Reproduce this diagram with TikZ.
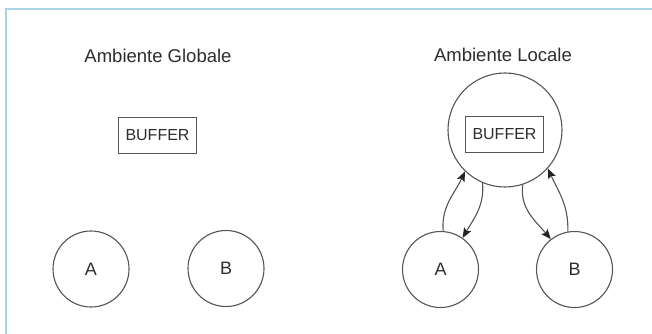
\documentclass[tikz,border=0pt]{standalone}
\usepackage{fontspec}
\setmainfont{Liberation Sans}
\usetikzlibrary{arrows.meta}
\definecolor{linegray}{RGB}{85,85,85}
\definecolor{textgray}{RGB}{45,45,45}
\definecolor{tipdark}{RGB}{35,35,35}
\definecolor{frameblue}{RGB}{170,212,232}
\begin{document}
\begin{tikzpicture}[x=1pt,y=-1pt,
  title/.style={font=\fontsize{18.5}{22}\selectfont, text=textgray, anchor=base, inner sep=0pt},
  bufbox/.style={draw=linegray, line width=1.1pt, minimum width=78pt, minimum height=36pt, inner sep=0pt, font=\fontsize{16}{19}\selectfont, text=textgray},
  proc/.style={draw=linegray, line width=1.1pt, circle, minimum size=76pt, inner sep=0pt, font=\fontsize{18}{21}\selectfont, text=textgray},
  bigc/.style={draw=linegray, line width=1.1pt, circle, minimum size=114pt, inner sep=0pt},
  link/.style={draw=linegray, line width=1.1pt, -{Stealth[length=10pt,width=8pt,inset=2pt,color=tipdark]}}
]
\useasboundingbox (0,0) rectangle (652,334);
% frame
\draw[frameblue, line width=2pt] (6,334) -- (6,9.5) -- (652,9.5);

% left panel
\node[title] (tg) at (158,63) {Ambiente Globale};
\node[bufbox] (bg) at (157.5,135.5) {BUFFER};
\node[proc] (ga) at (91,269) {A};
\node[proc] (gb) at (226,268.5) {B};

% right panel
\node[title] (tl) at (503,62) {Ambiente Locale};
\node[bigc] (bc) at (505,130) {};
\node[bufbox] (bl) at (504.5,134.5) {BUFFER};
\node[proc] (la) at (440.5,269.5) {A};
\node[proc] (lb) at (574.5,269.5) {B};

\draw[link] (la.86) to[out=95,in=245] (bc.226);
\draw[link] (bc.247) to[out=275,in=60] (la.55);
\draw[link] (bc.288) to[out=262,in=130] (lb.128);
\draw[link] (lb.100) to[out=88,in=295] (bc.318);
\end{tikzpicture}
\end{document}
